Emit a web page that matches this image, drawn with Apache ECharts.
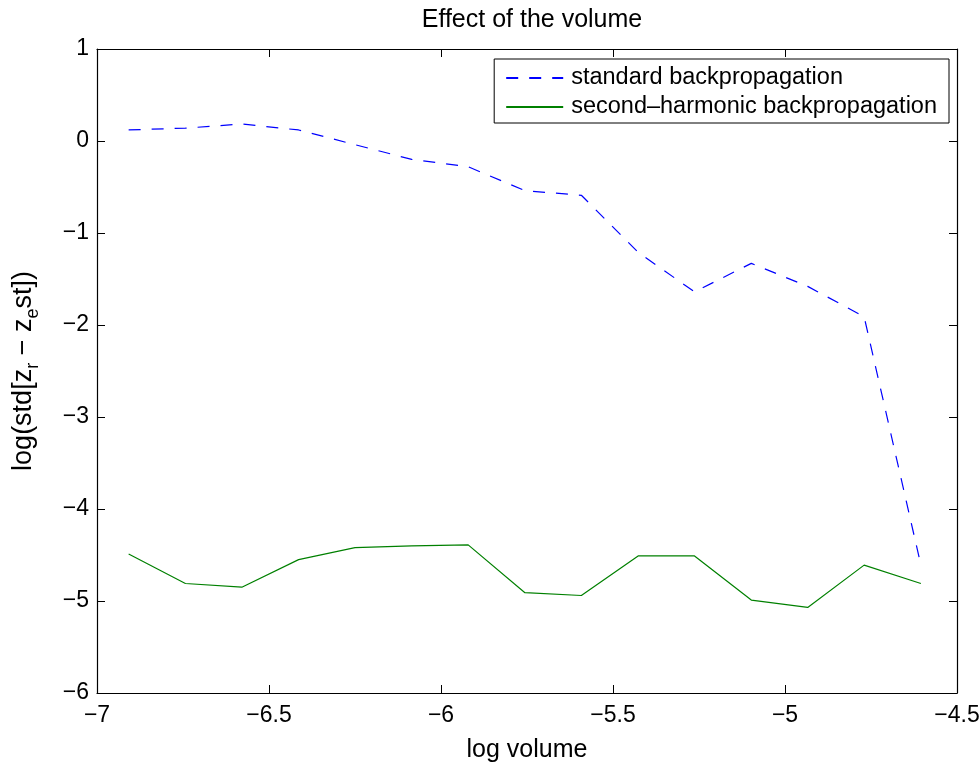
<!DOCTYPE html>
<html>
<head>
<meta charset="utf-8">
<script src="https://cdn.jsdelivr.net/npm/echarts@6/dist/echarts.min.js"></script>
<style>
  html, body { margin: 0; padding: 0; background: #ffffff; }
  #chart { width: 980px; height: 762px; }
</style>
</head>
<body>
<div id="chart"></div>
<script>
// log volume values (x positions of the samples)
const logVolume = [-6.908, -6.743, -6.579, -6.414, -6.250, -6.085, -5.921, -5.756,
                   -5.592, -5.427, -5.263, -5.098, -4.934, -4.770, -4.605];

// log(std[z_r - z_est]) for each reconstruction method
const standardBP = [0.12, 0.14, 0.185, 0.12, -0.04, -0.20, -0.28, -0.54,
                    -0.59, -1.21, -1.64, -1.33, -1.58, -1.91, -4.61];
const secondHarmonicBP = [-4.49, -4.81, -4.85, -4.55, -4.42, -4.40, -4.39, -4.91,
                          -4.94, -4.51, -4.51, -4.99, -5.07, -4.61, -4.81];

const seriesNames = ['standard backpropagation', 'second\u2013harmonic backpropagation'];

const xTicks = { min: -7, max: -4.5, step: 0.5 };
const yTicks = { min: -6, max: 1, step: 1 };

const FONT = 'Liberation Sans, Arial, Helvetica, sans-serif';
const pairs = (xs, ys) => xs.map((x, i) => [x, ys[i]]);
const minusFmt = v => String(v).replace('-', '\u2212');

const tickStyle = { show: true, inside: true, length: 8, lineStyle: { color: '#000', width: 1 } };
const lineStyle = { show: true, onZero: false, lineStyle: { color: '#000', width: 1.2 } };

const chart = echarts.init(document.getElementById('chart'), null, { renderer: 'canvas' });

chart.setOption({
  backgroundColor: '#ffffff',
  animation: false,
  title: {
    text: 'Effect of the volume',
    left: 527,
    textAlign: 'center',
    top: 3,
    textStyle: { fontFamily: FONT, fontSize: 25, fontWeight: 'normal', color: '#000' }
  },
  legend: {
    orient: 'vertical',
    right: 31,
    top: 59,
    padding: [7, 12, 4, 11],
    itemGap: 5,
    itemWidth: 57,
    itemHeight: 14,
    borderColor: '#000',
    borderWidth: 1,
    backgroundColor: '#fff',
    itemStyle: { opacity: 0 },
    textStyle: { fontFamily: FONT, fontSize: 23.5, color: '#000', padding: [0, 0, 0, 3] },
    data: seriesNames
  },
  grid: { left: 97, right: 23, top: 49, bottom: 69, outerBoundsMode: 'none' },
  xAxis: [
    {
      type: 'value',
      min: xTicks.min, max: xTicks.max, interval: xTicks.step,
      position: 'bottom',
      name: 'log volume',
      nameLocation: 'middle',
      nameGap: 45,
      nameTextStyle: { fontFamily: FONT, fontSize: 25, color: '#000' },
      axisLine: lineStyle,
      axisTick: tickStyle,
      splitLine: { show: false },
      axisLabel: { fontFamily: FONT, fontSize: 23, color: '#000', margin: 11, formatter: minusFmt }
    },
    {
      type: 'value',
      min: xTicks.min, max: xTicks.max, interval: xTicks.step,
      position: 'top',
      axisLine: lineStyle,
      axisTick: tickStyle,
      splitLine: { show: false },
      axisLabel: { show: false }
    }
  ],
  yAxis: [
    {
      type: 'value',
      min: yTicks.min, max: yTicks.max, interval: yTicks.step,
      position: 'left',
      name: '{n|log(std[z}{s|r}{n| \u2212 z}{s|e}{n|st])}',
      nameLocation: 'middle',
      nameRotate: 90,
      nameGap: 55,
      nameTextStyle: {
        fontFamily: FONT, color: '#000',
        rich: {
          n: { fontFamily: FONT, fontSize: 27, color: '#000', lineHeight: 36, verticalAlign: 'middle' },
          s: { fontFamily: FONT, fontSize: 18, color: '#000', lineHeight: 20, verticalAlign: 'bottom' }
        }
      },
      axisLine: lineStyle,
      axisTick: tickStyle,
      splitLine: { show: false },
      axisLabel: { fontFamily: FONT, fontSize: 23, color: '#000', margin: 8, formatter: minusFmt }
    },
    {
      type: 'value',
      min: yTicks.min, max: yTicks.max, interval: yTicks.step,
      position: 'right',
      axisLine: lineStyle,
      axisTick: tickStyle,
      splitLine: { show: false },
      axisLabel: { show: false }
    }
  ],
  series: [
    {
      name: seriesNames[0],
      type: 'line',
      xAxisIndex: 0, yAxisIndex: 0,
      symbol: 'none',
      color: '#0000ff',
      lineStyle: { color: '#0000ff', width: 1.2, type: [12, 11] },
      data: pairs(logVolume, standardBP)
    },
    {
      name: seriesNames[1],
      type: 'line',
      xAxisIndex: 0, yAxisIndex: 0,
      symbol: 'none',
      color: '#008000',
      lineStyle: { color: '#008000', width: 1.2 },
      data: pairs(logVolume, secondHarmonicBP)
    }
  ]
});
</script>
</body>
</html>
